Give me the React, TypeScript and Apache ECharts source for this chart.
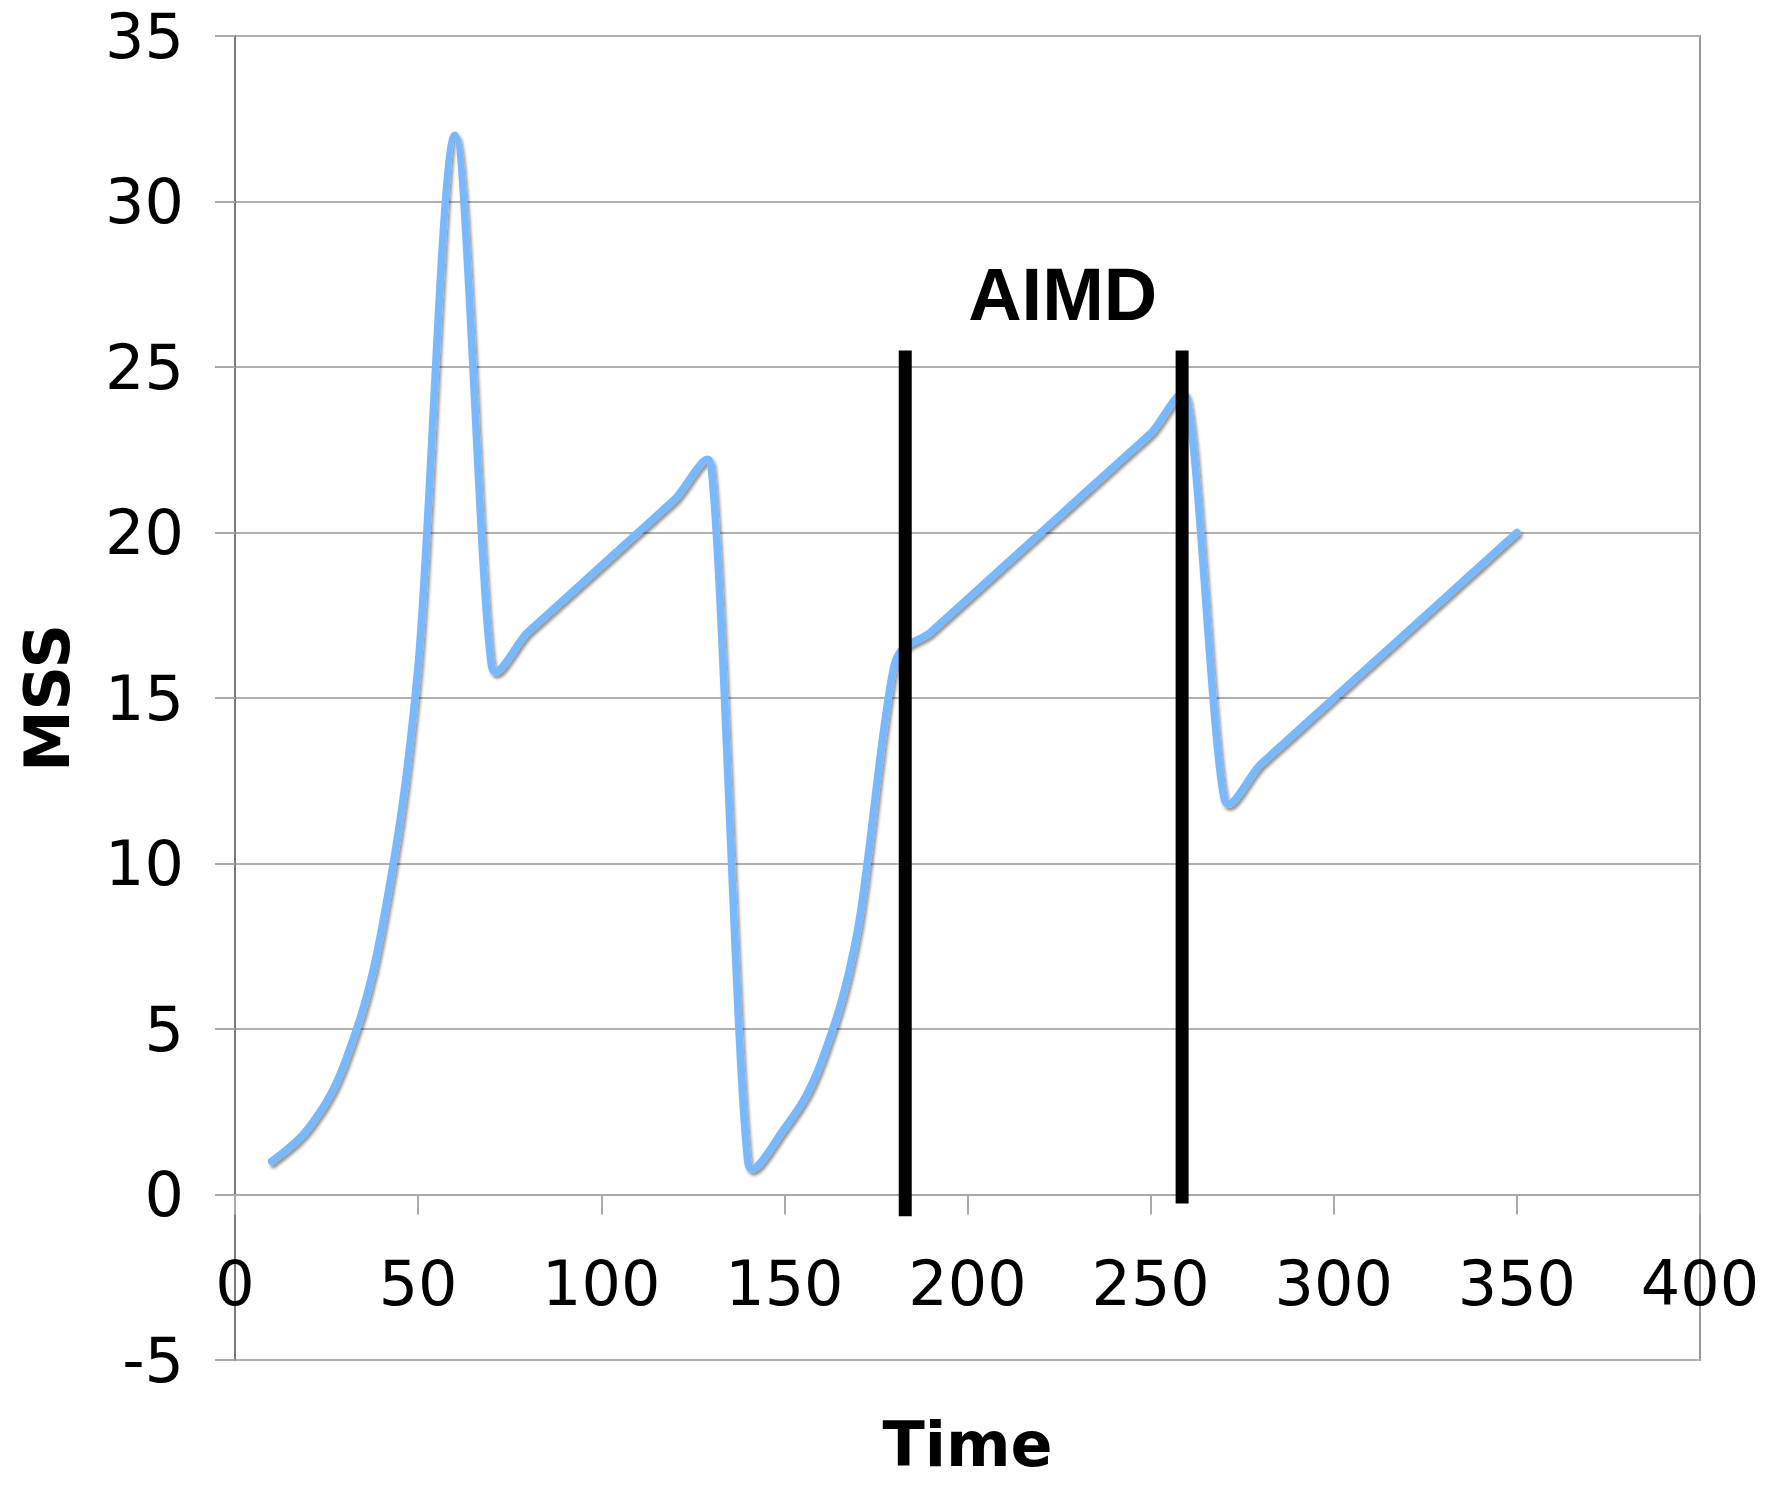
import React, { useEffect, useRef } from "react";
import * as echarts from "echarts";

// Congestion window (in MSS) sampled every 10 time units
const timeValues = [
  10, 20, 30, 40, 50, 60, 70, 80, 90, 100, 110, 120, 130, 140, 150, 160, 170,
  180, 190, 200, 210, 220, 230, 240, 250, 260, 270, 280, 290, 300, 310, 320,
  330, 340, 350,
];
const mssValues = [
  1, 2, 4, 8, 16, 32, 16, 17, 18, 19, 20, 21, 22, 1, 2, 4, 8, 16, 17, 18, 19,
  20, 21, 22, 23, 24, 12, 13, 14, 15, 16, 17, 18, 19, 20,
];

// Bars delimiting the additive-increase / multiplicative-decrease phase
const aimdBounds = [183, 258.6];
const aimdTop = 25.5;
const aimdBottoms = [-0.66, -0.27];
const aimdLabel = "AIMD";
const aimdLabelAt = [226, 27.2];

const xAxisName = "Time";
const yAxisName = "MSS";

const GRID = { left: 235, top: 36, width: 1465, height: 1324 };
const Y_MIN = -5;
const Y_MAX = 35;
// the time axis sits on MSS = 0 rather than on the bottom of the frame
const zeroOffset = -(GRID.height * (0 - Y_MIN)) / (Y_MAX - Y_MIN);

type Pt = number[];

// Smooth curve through the points: Catmull-Rom style handles, each limited
// to half of the segment it belongs to so steep drops stay straight.
function smoothPath(pts: Pt[]): string {
  const n = pts.length;
  let d = `M${pts[0][0]},${pts[0][1]}`;
  for (let i = 0; i < n - 1; i++) {
    const p0 = pts[Math.max(i - 1, 0)];
    const p1 = pts[i];
    const p2 = pts[i + 1];
    const p3 = pts[Math.min(i + 2, n - 1)];
    const seg = Math.hypot(p2[0] - p1[0], p2[1] - p1[1]);

    const tx = p2[0] - p0[0];
    const ty = p2[1] - p0[1];
    const tl = Math.hypot(tx, ty);
    const h1 = Math.min(tl / 6, seg / 2);
    const c1 = tl > 0 ? [p1[0] + (tx / tl) * h1, p1[1] + (ty / tl) * h1] : p1;

    const ux = p3[0] - p1[0];
    const uy = p3[1] - p1[1];
    const ul = Math.hypot(ux, uy);
    const h2 = Math.min(ul / 6, seg / 2);
    const c2 = ul > 0 ? [p2[0] - (ux / ul) * h2, p2[1] - (uy / ul) * h2] : p2;

    d += ` C${c1[0]},${c1[1]} ${c2[0]},${c2[1]} ${p2[0]},${p2[1]}`;
  }
  return d;
}

export default function App() {
  const ref = useRef<HTMLDivElement>(null);

  useEffect(() => {
    if (!ref.current) return;
    const chart = echarts.init(ref.current, null, { renderer: "svg" });

    const boundarySeries = aimdBounds.map((x, i) => ({
      type: "line",
      data: [
        [x, aimdTop],
        [x, aimdBottoms[i]],
      ],
      symbol: "none",
      silent: true,
      z: 4,
      lineStyle: { color: "#000", width: 13, cap: "butt" },
    }));

    chart.setOption({
      animation: false,
      backgroundColor: "#fff",
      grid: {
        ...GRID,
        outerBoundsMode: "none",
        containLabel: false,
        show: true,
        borderColor: "#999",
        borderWidth: 2,
      },
      xAxis: {
        type: "value",
        min: 0,
        max: 400,
        interval: 50,
        position: "bottom",
        offset: zeroOffset,
        name: xAxisName,
        nameLocation: "middle",
        nameGap: 219,
        nameTextStyle: {
          fontFamily: "DejaVu Sans",
          fontWeight: "bold",
          fontSize: 62,
          lineHeight: 62,
          color: "#000",
        },
        axisLine: { onZero: false, lineStyle: { color: "#a8a8a8", width: 2 } },
        axisTick: { show: true, length: 20, lineStyle: { color: "#a8a8a8", width: 2 } },
        axisLabel: {
          fontFamily: "DejaVu Sans",
          fontSize: 62,
          color: "#000",
          margin: 58,
        },
        splitLine: { show: false },
      },
      yAxis: {
        type: "value",
        min: Y_MIN,
        max: Y_MAX,
        interval: 5,
        name: yAxisName,
        nameLocation: "middle",
        nameRotate: 90,
        nameGap: 157,
        nameTextStyle: {
          fontFamily: "DejaVu Sans",
          fontWeight: "bold",
          fontSize: 62,
          color: "#000",
        },
        axisLine: { show: true, onZero: false, lineStyle: { color: "#7a7a7a", width: 2 } },
        axisTick: { show: true, length: 20, lineStyle: { color: "#a8a8a8", width: 2 } },
        axisLabel: {
          fontFamily: "DejaVu Sans",
          fontSize: 62,
          color: "#000",
          margin: 51,
        },
        splitLine: { show: true, lineStyle: { color: "#b0b0b0", width: 2 } },
      },
      series: [
        {
          type: "custom",
          coordinateSystem: "cartesian2d",
          data: timeValues.map((t, i) => [t, mssValues[i]]),
          encode: { x: 0, y: 1 },
          z: 3,
          silent: true,
          renderItem: (params: any, api: any) => {
            if (params.dataIndex !== 0) return null;
            const pts = timeValues.map((t, i) => api.coord([t, mssValues[i]]));
            return {
              type: "path",
              shape: { pathData: smoothPath(pts) },
              style: {
                fill: "none",
                stroke: "#78b8ff",
                lineWidth: 7.5,
                lineJoin: "round",
                lineCap: "round",
                shadowColor: "rgba(0,0,0,0.42)",
                shadowBlur: 3,
                shadowOffsetX: 2,
                shadowOffsetY: 3,
              },
            };
          },
        },
        ...boundarySeries,
        {
          type: "scatter",
          data: [aimdLabelAt],
          symbolSize: 0,
          silent: true,
          z: 5,
          itemStyle: { opacity: 1 },
          label: {
            show: true,
            position: "inside",
            formatter: aimdLabel,
            fontFamily: "Liberation Sans",
            fontWeight: "bold",
            fontSize: 74,
            color: "#000",
            opacity: 1,
          },
        },
      ],
    });

    return () => chart.dispose();
  }, []);

  return (
    <div
      ref={ref}
      style={{
        position: "fixed",
        left: 0,
        top: 0,
        width: 1765,
        height: 1486,
        background: "#fff",
      }}
    />
  );
}
